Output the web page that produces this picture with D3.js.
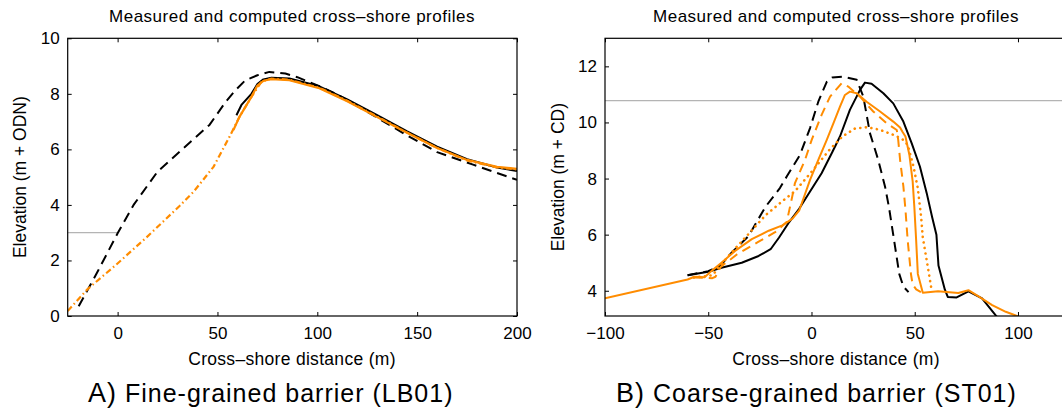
<!DOCTYPE html>
<html>
<head>
<meta charset="utf-8">
<script src="https://cdn.jsdelivr.net/npm/d3@7"></script>
<style>
  body { margin: 0; background: #fff; }
  svg { display: block; font-family: "Liberation Sans", Arial, Helvetica, sans-serif; }
  .tick text { font-size: 17px; fill: #000; }
  .tick line { stroke: #000; stroke-width: 1; }
  .domain { display: none; }
</style>
</head>
<body>
<svg id="chart" width="1062" height="412"></svg>
<script>
// ---- data ----
// panel A: LB01, fine-grained barrier
var lbXTicks = [0, 50, 100, 150, 200];
var lbYTicks = [0, 2, 4, 6, 8, 10];
var lbPreStorm = [[-19.5,0.35],[-10,1.6],[0,2.98],[8,4.0],[20,5.2],[32,5.98],[46,6.88],[54,7.7],[59,8.13],[64,8.49],
  [70,8.67],[76,8.79],[84,8.73],[90,8.6],[102,8.25],[110,7.98],[127,7.27],[145,6.5],[160,5.9],[178,5.45],[200,4.9]];
var lbPostStorm = [[59.5,7.23],[62,7.6],[67,8.0],[70,8.35],[73,8.52],[77,8.58],[86,8.55],[101,8.27],[115,7.8],
  [129.5,7.25],[145,6.65],[160,6.1],[175,5.65],[190,5.35],[200,5.22]];
var lbModelA = [[58,6.7],[61,7.17],[67,7.89],[70,8.3],[73,8.47],[77,8.53],[86,8.49],[101,8.2],[115,7.73],[129.5,7.18],
  [145,6.6],[160,6.05],[175,5.62],[190,5.37],[200,5.3]];
var lbModelB = [[-25,0.18],[-15,0.97],[-1,1.83],[14,2.8],[31,3.96],[38,4.47],[48,5.37],[56,6.45],[61,7.17],[67,7.89],
  [72,8.43],[77,8.55],[86,8.51],[101,8.22],[115,7.75],[129.5,7.2],[145,6.6],[160,6.05],[175,5.6],[190,5.35],[200,5.28]];
var lbWater = [[[-25,3],[0,3]]];

// panel B: ST01, coarse-grained barrier
var stXTicks = [-100, -50, 0, 50, 100];
var stYTicks = [4, 6, 8, 10, 12];
var stPreStorm = [[-60,4.55],[-50,4.7],[-44,4.9],[-38.7,5.36],[-30.5,5.95],[-22.3,6.99],[-15.3,7.66],[-12,8.07],
  [-5.6,8.84],[-0.7,9.8],[3.3,10.74],[7.4,11.45],[10,11.6],[15.4,11.63],[21.9,11.52],[25.1,10.92],[28.3,9.62],
  [32.3,8.67],[35.6,7.72],[37.5,6.99],[40,5.8],[42.5,4.6],[44.5,4.15],[47,3.95]];
var stPostStorm = [[-60,4.55],[-50,4.68],[-43.6,4.82],[-33.8,5.0],[-25.6,5.24],[-19.8,5.48],[-15.7,5.9],[-10.8,6.45],
  [-5.9,6.93],[-0.7,7.54],[4.9,8.19],[9.8,8.9],[13.8,9.5],[18.6,10.45],[23.5,11.16],[25.9,11.42],[29.1,11.38],
  [34.8,11.04],[39.6,10.68],[44.5,10.03],[48.5,9.26],[52.5,8.43],[55.8,7.48],[58.5,6.6],[60.5,6.0],[61.5,4.9],
  [64.6,4.04],[66,3.78],[70.3,3.76],[76,3.98],[82.6,3.73],[90,3.05],[91,3.0]];
var stModelSolid = [[-100,3.73],[-60,4.4],[-56.7,4.5],[-51.8,4.48],[-48.5,4.7],[-43.6,5.0],[-37,5.42],[-28.9,5.84],
  [-20.7,6.14],[-14.1,6.33],[-9.2,6.57],[-5.9,6.87],[-0.7,7.95],[3.3,8.67],[7.4,9.38],[10.6,9.97],[13.8,10.56],
  [16.2,10.98],[18.6,11.1],[21.9,11.04],[26.7,10.74],[33.2,10.39],[39.6,10.03],[42.9,9.82],[44.2,9.65],[45.5,9.5],
  [47.4,8.85],[49,7.9],[49.8,7.0],[50.7,5.78],[51.5,4.6],[53.9,3.93],[61.3,3.98],[71.1,3.92],[76,4.02],[80.9,3.8],
  [87.5,3.49],[94.1,3.25],[103.1,3.0]];
var stModelDashed = [[-57,4.47],[-48,4.45],[-46.5,4.5],[-44,4.85],[-36,5.3],[-25.6,5.75],[-17.4,6.1],[-12,6.45],
  [-9.5,7.3],[-8,7.84],[-3.1,8.67],[0.1,9.38],[4.9,10.27],[9,10.92],[14.6,11.4],[17.8,11.28],[23.5,10.92],
  [29.9,10.39],[36.4,9.97],[41.3,9.73],[42,9.38],[42.9,8.67],[44.5,7.72],[45.5,6.9],[46.6,5.78],[48.2,4.58],
  [49,4.22],[50.7,4.05],[53,3.95]];
var stModelDotted = [[-57,4.47],[-48,4.55],[-39.5,5.3],[-31.3,5.96],[-22.3,6.69],[-14,7.2],[-8,7.55],[-1,8.15],
  [4,8.6],[9,9.05],[15,9.5],[21,9.78],[27,9.83],[33,9.74],[40,9.55],[44.5,9.38],[46.6,9.2],[49.5,8.4],[51.5,7.65],
  [53.1,6.63],[53.9,5.9],[56.4,4.82],[58,4.1],[59,3.97]];
var stWater = [[[-100,10.78],[0,10.78]], [[40,10.78],[125,10.78]]];

var orange = "#ff8c00";

var svg = d3.select("#chart");

function drawPanel(p) {
  var x = d3.scaleLinear().domain(p.xDomain).range([p.left, p.right]);
  var y = d3.scaleLinear().domain(p.yDomain).range([p.bottom, p.top]);
  var g = svg.append("g");

  g.append("clipPath").attr("id", p.id + "-clip")
    .append("rect")
    .attr("x", p.left).attr("y", p.top)
    .attr("width", p.right - p.left).attr("height", p.bottom - p.top);

  // water level lines
  var line = d3.line().x(d => x(d[0])).y(d => y(d[1]));
  g.selectAll(".water").data(p.water).enter().append("path")
    .attr("class", "water")
    .attr("d", line)
    .attr("fill", "none")
    .attr("stroke", "#b4b4b4")
    .attr("stroke-width", 1.2);

  var lines = g.append("g").attr("clip-path", "url(#" + p.id + "-clip)");
  lines.selectAll(".profile").data(p.series).enter().append("path")
    .attr("class", "profile")
    .attr("d", d => line(d.values))
    .attr("fill", "none")
    .attr("stroke", d => d.color)
    .attr("stroke-width", d => d.width)
    .attr("stroke-dasharray", d => d.dash)
    .attr("stroke-linecap", d => d.cap || "butt")
    .attr("stroke-linejoin", "round");

  // box + inward ticks
  g.append("g").attr("transform", `translate(0,${p.bottom})`)
    .call(d3.axisBottom(x).tickValues(p.xTicks).tickSize(-4).tickPadding(11).tickFormat(d => d < 0 ? "\u2212" + Math.abs(d) : d));
  g.append("g").attr("transform", `translate(0,${p.top})`)
    .call(d3.axisTop(x).tickValues(p.xTicks).tickSize(-4).tickFormat(""));
  g.append("g").attr("transform", `translate(${p.left},0)`)
    .call(d3.axisLeft(y).tickValues(p.yTicks).tickSize(-4).tickPadding(8));
  g.append("g").attr("transform", `translate(${p.right},0)`)
    .call(d3.axisRight(y).tickValues(p.yTicks).tickSize(-4).tickFormat(""));

  g.append("rect")
    .attr("x", p.left).attr("y", p.top)
    .attr("width", p.right - p.left).attr("height", p.bottom - p.top)
    .attr("fill", "none").attr("stroke", "#000").attr("stroke-width", 1.2);

  g.append("text")
    .attr("x", p.titleX).attr("y", 22)
    .attr("text-anchor", "middle")
    .attr("font-size", 17).attr("letter-spacing", 0.5)
    .text("Measured and computed cross\u2013shore profiles");

  g.append("text")
    .attr("x", p.titleX).attr("y", 365)
    .attr("text-anchor", "middle")
    .attr("font-size", 17.5).attr("letter-spacing", 0.3)
    .text("Cross\u2013shore distance (m)");

  g.append("text")
    .attr("transform", `translate(${p.ylabelX},${(p.top + p.bottom) / 2}) rotate(-90)`)
    .attr("text-anchor", "middle")
    .attr("dy", "0.35em")
    .attr("font-size", 17.5)
    .text(p.ylabel);

  var cap = g.append("text")
    .attr("x", p.captionX).attr("y", 402)
    .attr("font-size", 25).attr("letter-spacing", 1);
  cap.append("tspan").attr("font-size", 27).text(p.captionTag);
  cap.append("tspan").text(" " + p.caption);
}

drawPanel({
  id: "lb",
  left: 67.7, right: 517, top: 38.3, bottom: 316,
  xDomain: [-25, 200], yDomain: [0, 10],
  xTicks: lbXTicks, yTicks: lbYTicks,
  water: lbWater,
  series: [
    { values: lbPreStorm, color: "#000", width: 2, dash: "10,6" },
    { values: lbPostStorm, color: "#000", width: 2, dash: null },
    { values: lbModelB, color: orange, width: 2.2, dash: "6,3,1.5,3" },
    { values: lbModelA, color: orange, width: 2.2, dash: null }
  ],
  titleX: 292, ylabelX: 20,
  ylabel: "Elevation (m + ODN)",
  captionX: 88, captionTag: "A)", caption: "Fine-grained barrier (LB01)"
});

drawPanel({
  id: "st",
  left: 605, right: 1069.6, top: 38.3, bottom: 316,
  xDomain: [-100, 125], yDomain: [3.1, 13],
  xTicks: stXTicks, yTicks: stYTicks,
  water: stWater,
  series: [
    { values: stPreStorm, color: "#000", width: 2, dash: "10,6" },
    { values: stPostStorm, color: "#000", width: 2, dash: null },
    { values: stModelDotted, color: orange, width: 2.6, dash: "0.1,5.5", cap: "round" },
    { values: stModelDashed, color: orange, width: 2, dash: "9,6" },
    { values: stModelSolid, color: orange, width: 2, dash: null }
  ],
  titleX: 836, ylabelX: 558,
  ylabel: "Elevation (m + CD)",
  captionX: 616, captionTag: "B)", caption: "Coarse-grained barrier (ST01)"
});
</script>
</body>
</html>
